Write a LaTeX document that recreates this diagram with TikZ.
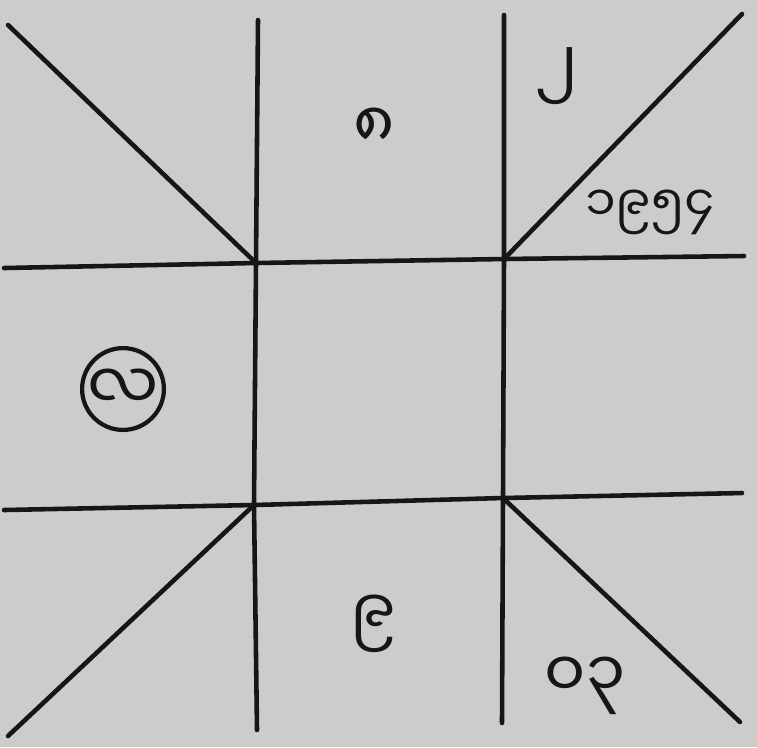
\documentclass[tikz,border=0pt]{standalone}
\usepackage{fontspec}
\usepackage{xcolor}
\usepackage{tikz}
\usetikzlibrary{positioning}
\newfontfamily\mmfont[Script=Myanmar]{Noto Sans Myanmar UI}
\definecolor{papercolor}{RGB}{204,204,202}
\definecolor{inkcolor}{RGB}{22,22,22}
\tikzset{
  grid line/.style={
    draw=inkcolor,
    line width=1.3pt,
    line cap=round
  },
  num label/.style={
    inner sep=0pt,
    text=inkcolor,
    font=\mmfont\fontsize{18}{20}\selectfont
  },
  small label/.style={
    num label,
    font=\mmfont\fontsize{14}{16}\selectfont
  },
  ring label/.style={
    num label,
    circle,
    draw=inkcolor,
    line width=1.2pt,
    minimum size=0.77cm
  }
}

\begin{document}
\begin{tikzpicture}[x=0.01cm, y=-0.01cm]

  % Paper
  \fill[papercolor] (0,0) rectangle (757,747);
  \useasboundingbox (0,0) rectangle (757,747);

  % Crossing points of the grid
  \coordinate (tl) at (256,263);
  \coordinate (tr) at (504,259);
  \coordinate (bl) at (254,505);
  \coordinate (br) at (503,498);

  % Free ends
  \coordinate (vlt) at (258,20);
  \coordinate (vlb) at (257,730);
  \coordinate (vrt) at (504,15);
  \coordinate (vrb) at (502,723);
  \coordinate (hlt) at (4,268);
  \coordinate (hrt) at (744,256);
  \coordinate (hlb) at (4,510);
  \coordinate (hrb) at (742,493);
  \coordinate (dtl) at (8,25);
  \coordinate (dtr) at (742,14);
  \coordinate (dbl) at (8,736);
  \coordinate (dbr) at (740,722);

  % Grid lines
  \draw[grid line] (vlt) -- (tl) -- (bl) -- (vlb);
  \draw[grid line] (vrt) -- (tr) -- (br) -- (vrb);
  \draw[grid line] (hlt) -- (tl) -- (tr) -- (hrt);
  \draw[grid line] (hlb) -- (bl) -- (br) -- (hrb);

  % Corner diagonals
  \draw[grid line] (dtl) -- (tl);
  \draw[grid line] (dtr) -- (tr);
  \draw[grid line] (dbl) -- (bl);
  \draw[grid line] (dbr) -- (br);

  % Labels
  \node[num label] (eight) at (374,128) {၈};
  \node[num label] (two) at (557,76) {၂};
  \node[small label] (year) at (650,212) {၁၉၅၄};
  \node[ring label] (la) at (123,389) {လ};
  \node[num label] (nine) at (373,624) {၉};
  \node[num label] (zerothree) at (585,686) {၀၃};

\end{tikzpicture}
\end{document}
